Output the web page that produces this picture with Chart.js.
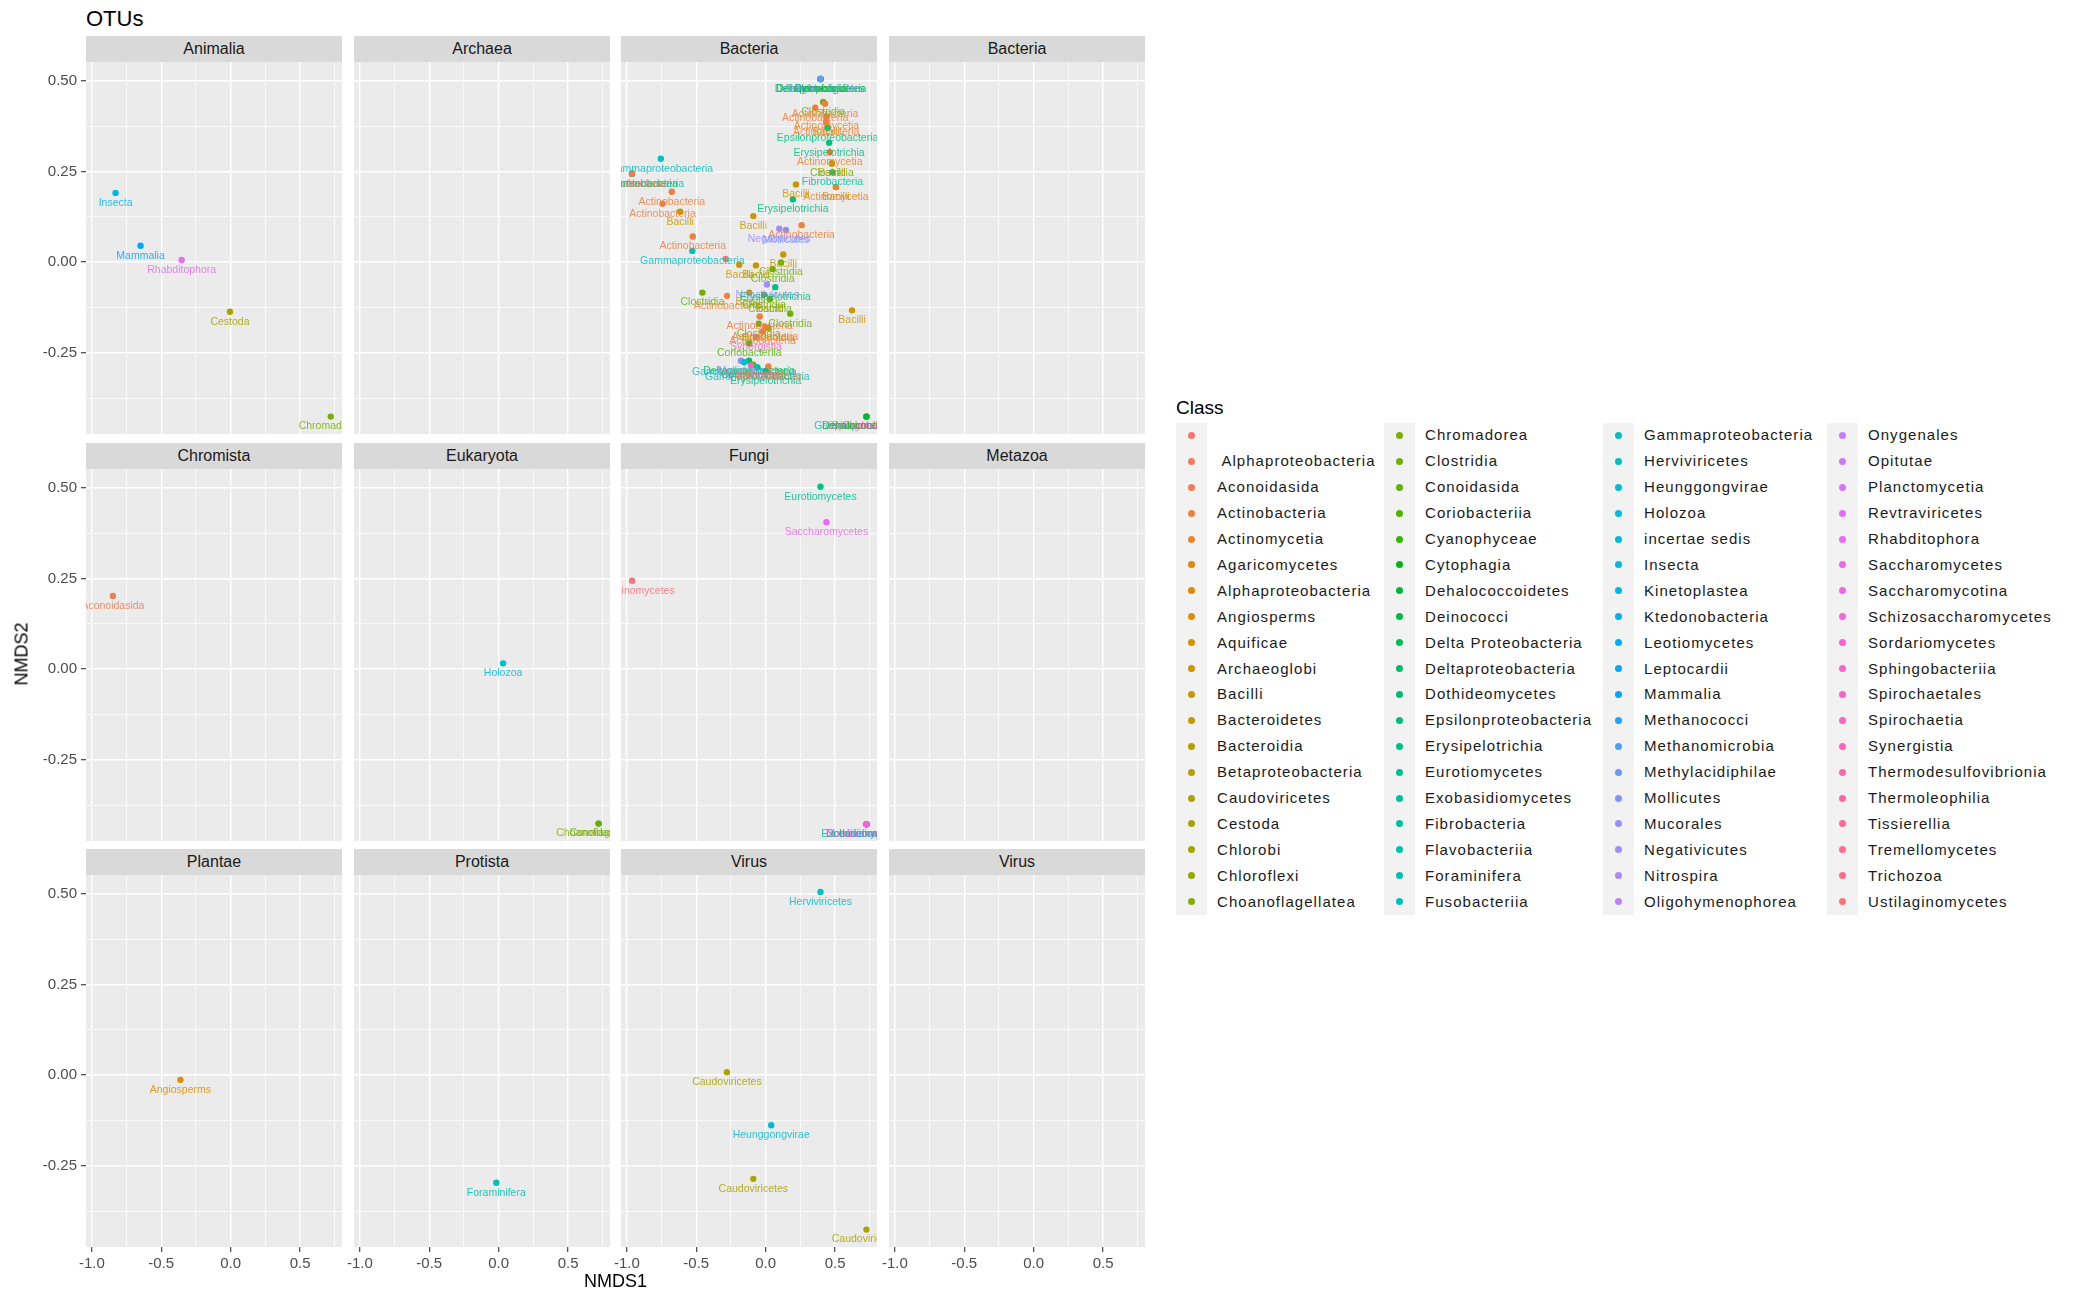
<!DOCTYPE html>
<html>
<head>
<meta charset="utf-8">
<script src="https://cdn.jsdelivr.net/npm/chart.js@4.4.1/dist/chart.umd.min.js"></script>
<style>
  body { margin: 0; background: #fff; font-family: "Liberation Sans", Arial, sans-serif; }
  #wrap { position: relative; width: 2075px; height: 1294px; overflow: hidden; }
  #wrap canvas { position: absolute; }
  .strip { position: absolute; background: #D9D9D9; color: #1A1A1A; font-size: 16px; text-align: center; }
  .txt { position: absolute; white-space: pre; color: #1A1A1A; }
  .keycol { position: absolute; background: #F2F2F2; }
  .dot { position: absolute; border-radius: 50%; }
</style>
</head>
<body>
<div id="wrap"></div>
<script>
// facets in facet_wrap order
const facetNames = ['Animalia', 'Archaea', 'Bacteria', 'Bacteria', 'Chromista', 'Eukaryota',
                    'Fungi', 'Metazoa', 'Plantae', 'Protista', 'Virus', 'Virus'];

// factor levels of Class (legend order)
const classLevels = [
  '', ' Alphaproteobacteria', 'Aconoidasida', 'Actinobacteria', 'Actinomycetia', 'Agaricomycetes',
  'Alphaproteobacteria', 'Angiosperms', 'Aquificae', 'Archaeoglobi', 'Bacilli', 'Bacteroidetes',
  'Bacteroidia', 'Betaproteobacteria', 'Caudoviricetes', 'Cestoda', 'Chlorobi', 'Chloroflexi',
  'Choanoflagellatea',
  'Chromadorea', 'Clostridia', 'Conoidasida', 'Coriobacteriia', 'Cyanophyceae', 'Cytophagia',
  'Dehalococcoidetes', 'Deinococci', 'Delta Proteobacteria', 'Deltaproteobacteria', 'Dothideomycetes',
  'Epsilonproteobacteria', 'Erysipelotrichia', 'Eurotiomycetes', 'Exobasidiomycetes', 'Fibrobacteria',
  'Flavobacteriia', 'Foraminifera', 'Fusobacteriia',
  'Gammaproteobacteria', 'Herviviricetes', 'Heunggongvirae', 'Holozoa', 'incertae sedis', 'Insecta',
  'Kinetoplastea', 'Ktedonobacteria', 'Leotiomycetes', 'Leptocardii', 'Mammalia', 'Methanococci',
  'Methanomicrobia', 'Methylacidiphilae', 'Mollicutes', 'Mucorales', 'Negativicutes', 'Nitrospira',
  'Oligohymenophorea',
  'Onygenales', 'Opitutae', 'Planctomycetia', 'Revtraviricetes', 'Rhabditophora', 'Saccharomycetes',
  'Saccharomycotina', 'Schizosaccharomycetes', 'Sordariomycetes', 'Sphingobacteriia', 'Spirochaetales',
  'Spirochaetia', 'Synergistia', 'Thermodesulfovibrionia', 'Thermoleophilia', 'Tissierellia',
  'Tremellomycetes', 'Trichozoa', 'Ustilaginomycetes'
];

// axis ticks
const xTickValues = [-1.0, -0.75, -0.5, -0.25, 0.0, 0.25, 0.5, 0.75];
const xTickLabels = ['-1.0', '', '-0.5', '', '0.0', '', '0.5', ''];
const yTickValues = [-0.375, -0.25, -0.125, 0.0, 0.125, 0.25, 0.375, 0.5];
const yTickLabels = ['', '-0.25', '', '0.00', '', '0.25', '', '0.50'];

// NMDS scores per facet
const animaliaClass = ['Insecta', 'Mammalia', 'Rhabditophora', 'Cestoda', 'Chromadorea'];
const animaliaX = [-0.829, -0.649, -0.353, -0.005, 0.721];
const animaliaY = [0.191, 0.045, 0.006, -0.137, -0.426];

const bacteriaClass = [
  'Dehalococcoidetes', 'Deltaproteobacteria', 'Cytophagia', 'Deinococci', 'Methylacidiphilae',
  'Clostridia', 'Actinobacteria', 'Actinobacteria', 'Actinomycetia', 'Bacilli', 'Actinobacteria',
  'Epsilonproteobacteria', 'Erysipelotrichia', 'Actinomycetia', 'Clostridia', 'Bacilli', 'Fibrobacteria',
  'Bacilli', 'Actinomycetia', 'Bacilli', 'Erysipelotrichia', 'Bacilli', 'Actinobacteria', 'Negativicutes',
  'Mollicutes', 'Gammaproteobacteria', 'Deltaproteobacteria', 'Gammaproteobacteria', 'Actinobacteria',
  'Actinobacteria', 'Actinobacteria', 'Bacilli', 'Actinobacteria', 'Gammaproteobacteria', '',
  'Bacilli', 'Bacilli', 'Bacilli', 'Clostridia', 'Clostridia', 'Negativicutes', 'Erysipelotrichia',
  'Clostridia', 'Actinobacteria', 'Bacilli', 'Clostridia', 'Bacilli', 'Clostridia', 'Clostridia',
  'Bacilli', 'Actinobacteria', 'Clostridia', 'Actinobacteria', 'Bacteroidia', 'Actinobacteria',
  'Synergistia', 'Coriobacteriia', 'Deltaproteobacteria', 'Mollicutes', 'Gammaproteobacteria',
  'Coriobacteriia', 'Gammaproteobacteria', 'Spirochaetia', 'Erysipelotrichia', 'Actinobacteria',
  'Gammaproteobacteria', 'Chloroflexi', 'Sphingobacteriia', 'Spirochaetales', 'Dehalococcoidetes'
];
const bacteriaX = [
  0.395, 0.395, 0.395, 0.395, 0.395,
  0.414, 0.428, 0.357, 0.438, 0.436, 0.436,
  0.446, 0.457, 0.462, 0.477, 0.477, 0.481,
  0.506, 0.506, 0.218, 0.196, -0.089, 0.259, 0.098,
  0.146, -0.755, -0.963, -0.963, -0.963,
  -0.676, -0.743, -0.616, -0.525, -0.528, -0.288,
  -0.190, -0.070, 0.127, 0.110, 0.050, 0.009, 0.069,
  -0.456, -0.278, -0.118, -0.012, 0.031, 0.031, 0.177,
  0.622, -0.043, -0.050, -0.005, 0.019, -0.022,
  -0.070, -0.118, -0.120, -0.178, -0.154,
  -0.090, -0.060, -0.106, 0.000, 0.019,
  0.726, 0.726, 0.726, 0.726, 0.726
];
const bacteriaY = [
  0.505, 0.505, 0.505, 0.505, 0.505,
  0.442, 0.437, 0.426, 0.402, 0.386, 0.386,
  0.370, 0.329, 0.303, 0.272, 0.272, 0.248,
  0.207, 0.207, 0.214, 0.173, 0.127, 0.102, 0.092,
  0.089, 0.285, 0.244, 0.244, 0.244,
  0.194, 0.161, 0.139, 0.071, 0.031, 0.009,
  -0.007, -0.009, 0.021, -0.001, -0.019, -0.062, -0.069,
  -0.084, -0.093, -0.084, -0.090, -0.102, -0.102, -0.142,
  -0.133, -0.150, -0.170, -0.178, -0.182, -0.191,
  -0.207, -0.224, -0.272, -0.272, -0.276,
  -0.283, -0.290, -0.285, -0.300, -0.288,
  -0.426, -0.426, -0.426, -0.426, -0.426
];

const chromistaClass = ['Aconoidasida'];
const chromistaX = [-0.848];
const chromistaY = [0.202];

const eukaryotaClass = ['Holozoa', 'Choanoflagellatea', 'Conoidasida'];
const eukaryotaX = [0.032, 0.720, 0.720];
const eukaryotaY = [0.016, -0.426, -0.426];

const fungiClass = ['Eurotiomycetes', 'Saccharomycetes', 'Ustilaginomycetes', 'Exobasidiomycetes',
                    'Dothideomycetes', 'Leotiomycetes', 'Sordariomycetes'];
const fungiX = [0.395, 0.438, -0.962, 0.726, 0.726, 0.726, 0.726];
const fungiY = [0.503, 0.405, 0.244, -0.428, -0.428, -0.428, -0.428];

const plantaeClass = ['Angiosperms'];
const plantaeX = [-0.362];
const plantaeY = [-0.013];

const protistaClass = ['Foraminifera'];
const protistaX = [-0.017];
const protistaY = [-0.297];

const virusClass = ['Herviviricetes', 'Caudoviricetes', 'Heunggongvirae', 'Caudoviricetes', 'Caudoviricetes'];
const virusX = [0.395, -0.279, 0.040, -0.089, 0.726];
const virusY = [0.505, 0.008, -0.138, -0.286, -0.426];

const emptyClass = [], emptyX = [], emptyY = [];

const panelData = [
  [animaliaClass, animaliaX, animaliaY], [emptyClass, emptyX, emptyY],
  [bacteriaClass, bacteriaX, bacteriaY], [emptyClass, emptyX, emptyY],
  [chromistaClass, chromistaX, chromistaY], [eukaryotaClass, eukaryotaX, eukaryotaY],
  [fungiClass, fungiX, fungiY], [emptyClass, emptyX, emptyY],
  [plantaeClass, plantaeX, plantaeY], [protistaClass, protistaX, protistaY],
  [virusClass, virusX, virusY], [emptyClass, emptyX, emptyY]
];

// ggplot hue_pal(): hcl(h, c = 100, l = 65)
function hcl(h, c, l) {
  const hr = h * Math.PI / 180;
  const U = c * Math.cos(hr), V = c * Math.sin(hr);
  const Xn = 95.047, Yn = 100, Zn = 108.883;
  const un = 4 * Xn / (Xn + 15 * Yn + 3 * Zn), vn = 9 * Yn / (Xn + 15 * Yn + 3 * Zn);
  const Y = l > 8 ? Yn * Math.pow((l + 16) / 116, 3) : Yn * l / 903.3;
  const u = U / (13 * l) + un, v = V / (13 * l) + vn;
  const X = Y * 9 * u / (4 * v), Z = Y * (12 - 3 * u - 20 * v) / (4 * v);
  const x = X / 100, y = Y / 100, z = Z / 100;
  const lin = [3.240479 * x - 1.53715 * y - 0.498535 * z,
              -0.969256 * x + 1.875992 * y + 0.041556 * z,
               0.055648 * x - 0.204043 * y + 1.057311 * z];
  return '#' + lin.map(t => {
    let g = t <= 0.0031308 ? 12.92 * t : 1.055 * Math.pow(t, 1 / 2.4) - 0.055;
    g = Math.round(Math.min(1, Math.max(0, g)) * 255);
    return g.toString(16).padStart(2, '0');
  }).join('');
}
const nLev = classLevels.length;
const classColor = classLevels.map((_, i) => hcl((15 + 360 * i / nLev) % 360, 100, 65));
const colorOf = name => classColor[classLevels.indexOf(name)];

Chart.defaults.font.family = "'Liberation Sans', Arial, sans-serif";

const wrap = document.getElementById('wrap');
function addText(txt, left, top, size, extra) {
  const d = document.createElement('div');
  d.className = 'txt';
  d.textContent = txt;
  d.style.left = left + 'px';
  d.style.top = top + 'px';
  d.style.fontSize = size + 'px';
  if (extra) Object.assign(d.style, extra);
  wrap.appendChild(d);
  return d;
}

// layout
const colLeft = [86, 354, 621, 889];
const rowTop = [62, 469, 875];
const PW = 256, PH = 372, STRIP = 26, AX_W = 64, AX_H = 40;
const X_MIN = -1.042, X_MAX = 0.802, Y_MIN = -0.474, Y_MAX = 0.552;

const panelBg = {
  id: 'panelBg',
  beforeDraw(chart) {
    const a = chart.chartArea, ctx = chart.ctx;
    ctx.save();
    ctx.fillStyle = '#EBEBEB';
    ctx.fillRect(a.left, a.top, a.right - a.left, a.bottom - a.top);
    ctx.restore();
  }
};

const pointText = {
  id: 'pointText',
  afterDatasetsDraw(chart) {
    const a = chart.chartArea, ctx = chart.ctx;
    const ds = chart.data.datasets[0];
    const meta = chart.getDatasetMeta(0);
    ctx.save();
    ctx.beginPath();
    ctx.rect(a.left, a.top, a.right - a.left, a.bottom - a.top);
    ctx.clip();
    ctx.font = "10.5px 'Liberation Sans', Arial, sans-serif";
    ctx.textAlign = 'center';
    ctx.textBaseline = 'middle';
    ctx.globalAlpha = 0.85;
    meta.data.forEach((el, i) => {
      const name = ds.classNames[i];
      if (!name) return;
      ctx.fillStyle = ds.pointBackgroundColor[i];
      ctx.fillText(name, el.x, el.y + 10);
    });
    ctx.restore();
  }
};

facetNames.forEach((name, k) => {
  const r = Math.floor(k / 4), c = k % 4;
  const strip = document.createElement('div');
  strip.className = 'strip';
  strip.textContent = name;
  Object.assign(strip.style, {
    left: colLeft[c] + 'px', top: (rowTop[r] - STRIP) + 'px',
    width: PW + 'px', height: STRIP + 'px', lineHeight: STRIP + 'px'
  });
  wrap.appendChild(strip);

  const cv = document.createElement('canvas');
  const cw = AX_W + PW + 6, ch = PH + AX_H;
  cv.width = cw; cv.height = ch;
  Object.assign(cv.style, {
    left: (colLeft[c] - AX_W) + 'px', top: rowTop[r] + 'px', width: cw + 'px', height: ch + 'px'
  });
  wrap.appendChild(cv);

  const [cls, xs, ys] = panelData[k];
  const showY = c === 0, showX = r === 2;
  new Chart(cv, {
    type: 'scatter',
    data: {
      datasets: [{
        data: xs.map((x, i) => ({ x: x, y: ys[i] })),
        classNames: cls,
        pointBackgroundColor: cls.map(colorOf),
        pointBorderWidth: 0,
        pointRadius: 3.2,
        pointHoverRadius: 3.2
      }]
    },
    options: {
      responsive: false,
      animation: false,
      devicePixelRatio: 1,
      events: [],
      layout: {
        autoPadding: false,
        padding: { left: showY ? 0 : AX_W, right: 6, top: 0, bottom: showX ? 0 : AX_H }
      },
      plugins: { legend: { display: false }, tooltip: { enabled: false } },
      scales: {
        x: {
          type: 'linear', min: X_MIN, max: X_MAX,
          afterBuildTicks: s => { s.ticks = xTickValues.map(v => ({ value: v })); },
          afterFit: s => { s.height = showX ? AX_H : 0; s.paddingLeft = 0; s.paddingRight = 0; },
          border: { display: false },
          ticks: {
            display: showX, autoSkip: false, maxRotation: 0, padding: 3,
            color: '#4D4D4D', font: { size: 15 },
            callback: (v, i) => xTickLabels[i]
          },
          grid: {
            color: '#FFFFFF',
            lineWidth: ctx => xTickLabels[ctx.index] ? 1.4 : 0.7,
            drawTicks: showX, tickLength: 5, tickWidth: 1.1,
            tickColor: ctx => xTickLabels[ctx.index] ? '#333333' : 'rgba(0,0,0,0)'
          }
        },
        y: {
          type: 'linear', min: Y_MIN, max: Y_MAX,
          afterBuildTicks: s => { s.ticks = yTickValues.map(v => ({ value: v })); },
          afterFit: s => { s.width = showY ? AX_W : 0; s.paddingTop = 0; s.paddingBottom = 0; },
          border: { display: false },
          ticks: {
            display: showY, autoSkip: false, padding: 4,
            color: '#4D4D4D', font: { size: 15 },
            callback: (v, i) => yTickLabels[i]
          },
          grid: {
            color: '#FFFFFF',
            lineWidth: ctx => yTickLabels[ctx.index] ? 1.4 : 0.7,
            drawTicks: showY, tickLength: 5, tickWidth: 1.1,
            tickColor: ctx => yTickLabels[ctx.index] ? '#333333' : 'rgba(0,0,0,0)'
          }
        }
      }
    },
    plugins: [panelBg, pointText]
  });
});

// titles
addText('OTUs', 86, 6, 22, { color: '#000' });
addText('NMDS1', 0, 1271, 18, { width: '1231px', textAlign: 'center', color: '#000' });
addText('NMDS2', 22, 654, 18, { color: '#000', transform: 'translate(-50%, -50%) rotate(-90deg)' });

// legend
addText('Class', 1176, 397, 19, { color: '#000' });
const keyLeft = [1176, 1384, 1603, 1827];
const perCol = 19, rowH = 25.9, legTop = 422.5;
keyLeft.forEach((kl, col) => {
  const kc = document.createElement('div');
  kc.className = 'keycol';
  Object.assign(kc.style, { left: kl + 'px', top: legTop + 'px', width: '31px', height: (perCol * rowH) + 'px' });
  wrap.appendChild(kc);
  for (let j = 0; j < perCol; j++) {
    const idx = col * perCol + j;
    const cy = legTop + j * rowH + rowH / 2;
    const d = document.createElement('div');
    d.className = 'dot';
    Object.assign(d.style, { left: (kl + 12) + 'px', top: (cy - 3.5) + 'px', width: '7px', height: '7px', background: classColor[idx] });
    wrap.appendChild(d);
    addText(classLevels[idx], kl + 41, cy - 9, 15, { letterSpacing: '1.05px', lineHeight: '18px' });
  }
});
</script>
</body>
</html>
